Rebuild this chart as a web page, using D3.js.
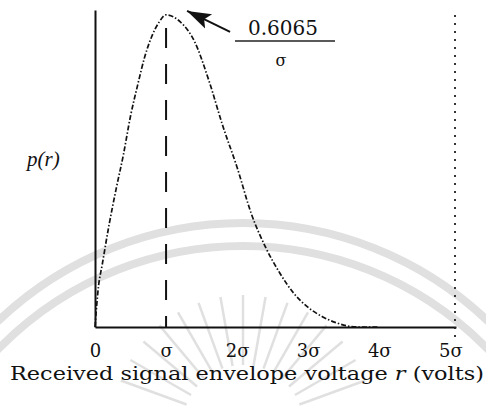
<!DOCTYPE html>
<html>
<head>
<meta charset="utf-8">
<script src="https://cdn.jsdelivr.net/npm/d3@7"></script>
<style>
  body { margin: 0; background: #fff; }
  svg { display: block; }
  .tick text { font-family: "DejaVu Serif", "Liberation Serif", serif; }
</style>
</head>
<body>
<div id="chart"></div>
<script>
// values (r in units of sigma, p(r) in units of 1/sigma)
var rValues = [0, 0.05, 0.1, 0.2, 0.3, 0.4, 0.5, 0.6, 0.7, 0.8, 0.9, 1.0, 1.1,
               1.2, 1.4, 1.6, 1.8, 2.0, 2.2, 2.4, 2.6, 2.8, 3.0, 3.2, 3.4, 3.7, 4.0];
var pValues = [0, 0.08, 0.12, 0.2, 0.27, 0.335, 0.41, 0.47, 0.525, 0.565, 0.592, 0.6065, 0.603,
               0.593, 0.555, 0.48, 0.39, 0.31, 0.22, 0.155, 0.105, 0.065, 0.038, 0.02, 0.008, 0, 0];
var tickValues = [0, 1, 2, 3, 4, 5];
var tickLabels = ["0", "σ", "2σ", "3σ", "4σ", "5σ"];
var peakR = 1;
var peakValue = 0.6065;

window.onload = function(){
    drawChart();
};

function drawChart(){
    var width = 486, height = 414;
    var svg = d3.select("#chart").append("svg")
                .attr("width", width).attr("height", height);

    // scanned-page watermark (light grey arcs and rays)
    var wm = svg.append("g").attr("fill", "none").attr("stroke", "#e0e0e0");
    wm.append("circle").attr("cx", 243).attr("cy", 578).attr("r", 355).attr("stroke-width", 8);
    wm.append("circle").attr("cx", 243).attr("cy", 588).attr("r", 342).attr("stroke-width", 8);
    d3.range(-70, 71, 10).forEach(function(a){
        var t = (a - 90) * Math.PI / 180;
        wm.append("line")
            .attr("x1", 243 + 60 * Math.cos(t)).attr("y1", 425 + 60 * Math.sin(t))
            .attr("x2", 243 + 130 * Math.cos(t)).attr("y2", 425 + 130 * Math.sin(t))
            .attr("stroke-width", 2.5);
    });

    var x = d3.scaleLinear().domain([0, 5.08]).range([95, 456]);
    var y = d3.scaleLinear().domain([0, 0.616]).range([327, 10]);

    // x axis (no tick marks, just labels)
    svg.append("g")
        .attr("transform", "translate(0,327)")
        .call(d3.axisBottom(x).tickValues(tickValues).tickSize(0).tickPadding(17)
                .tickFormat(function(d, i){ return tickLabels[i]; }))
        .call(function(g){
            g.select(".domain").attr("stroke", "#111").attr("stroke-width", 2);
            g.selectAll("text").attr("font-size", 18).attr("fill", "#111");
        });

    // y axis (plain line)
    svg.append("g")
        .attr("transform", "translate(95,0)")
        .call(d3.axisLeft(y).tickValues([]).tickSizeOuter(0))
        .call(function(g){
            g.select(".domain").attr("stroke", "#111").attr("stroke-width", 2);
        });

    // dotted edge line on the right
    svg.append("line")
        .attr("x1", x.range()[1] - 1).attr("x2", x.range()[1] - 1)
        .attr("y1", 15).attr("y2", 342)
        .attr("stroke", "#222").attr("stroke-width", 1.8)
        .attr("stroke-dasharray", "2,6");

    // dashed line at r = sigma
    svg.append("line")
        .attr("x1", x(peakR)).attr("x2", x(peakR))
        .attr("y1", 28).attr("y2", y(0))
        .attr("stroke", "#111").attr("stroke-width", 2)
        .attr("stroke-dasharray", "20,16");

    // Rayleigh pdf curve
    var pts = rValues.map(function(r, i){ return [r, pValues[i]]; });
    var line = d3.line()
                 .x(function(d){ return x(d[0]); })
                 .y(function(d){ return y(d[1]); })
                 .curve(d3.curveMonotoneX);
    svg.append("path")
        .datum(pts)
        .attr("d", line)
        .attr("fill", "none")
        .attr("stroke", "#111")
        .attr("stroke-width", 1.7)
        .attr("stroke-dasharray", "5,2,1.5,2");

    // annotation arrow to the peak
    var tipX = x(peakR) + 21, tipY = y(peakValue) - 4;
    svg.append("defs").append("marker")
        .attr("id", "head")
        .attr("viewBox", "0 0 24 24")
        .attr("refX", 24).attr("refY", 12)
        .attr("markerWidth", 24).attr("markerHeight", 24)
        .attr("markerUnits", "userSpaceOnUse")
        .attr("orient", "auto")
        .append("path").attr("d", "M0,4 L24,12 L0,20 L5,12 Z").attr("fill", "#111");
    svg.append("line")
        .attr("x1", tipX + 43).attr("y1", tipY + 21)
        .attr("x2", tipX).attr("y2", tipY)
        .attr("stroke", "#111").attr("stroke-width", 2)
        .attr("marker-end", "url(#head)");

    var serif = "\"DejaVu Serif\", \"Liberation Serif\", serif";
    svg.append("text")
        .attr("x", 283).attr("y", 35)
        .attr("text-anchor", "middle")
        .attr("font-family", serif).attr("font-size", 20)
        .attr("fill", "#111")
        .text(peakValue.toFixed(4));
    svg.append("line")
        .attr("x1", 235).attr("x2", 335).attr("y1", 41).attr("y2", 41)
        .attr("stroke", "#222").attr("stroke-width", 1.5);
    svg.append("text")
        .attr("x", 281).attr("y", 66)
        .attr("text-anchor", "middle")
        .attr("font-family", serif).attr("font-size", 16)
        .attr("fill", "#111")
        .text("σ");

    // y label
    svg.append("text")
        .attr("x", 27).attr("y", 166)
        .attr("font-family", "\"Liberation Serif\", serif")
        .attr("font-style", "italic").attr("font-size", 21)
        .attr("fill", "#111")
        .text("p(r)");

    // x label
    var xl = svg.append("text")
        .attr("x", 10).attr("y", 380)
        .attr("font-family", serif).attr("font-size", 18)
        .attr("fill", "#111")
        .attr("textLength", 474).attr("lengthAdjust", "spacingAndGlyphs");
    xl.append("tspan").text("Received signal envelope voltage ");
    xl.append("tspan").attr("font-style", "italic").text("r");
    xl.append("tspan").text(" (volts)");
}
</script>
</body>
</html>
